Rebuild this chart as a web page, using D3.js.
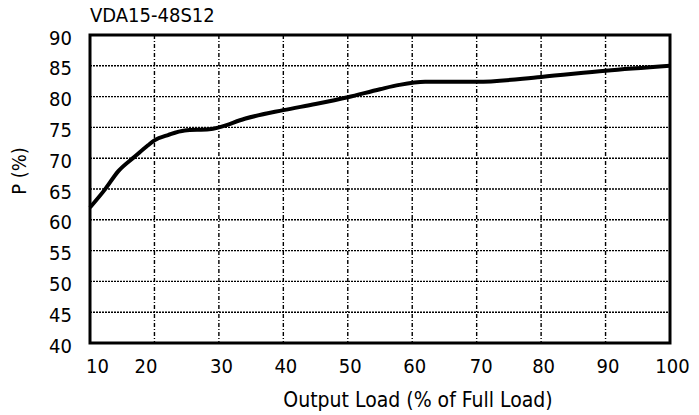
<!DOCTYPE html>
<html>
<head>
<meta charset="utf-8">
<script src="https://cdn.jsdelivr.net/npm/d3@7"></script>
<style>
  body { margin: 0; background: #fff; }
  text { font-family: "DejaVu Sans Condensed", "DejaVu Sans", sans-serif; font-stretch: condensed; fill: #000; }
</style>
</head>
<body>
<div id="chart"></div>
<script>
// efficiency curve
const load = [10, 12.3, 14.4, 17, 19, 20, 22.2, 24.7, 28.5, 30, 34, 40, 45, 50, 55, 58, 62, 70, 80, 90, 100];
const eff = [62.0, 64.9, 67.9, 70.3, 72.1, 72.9, 73.8, 74.5, 74.7, 75.0, 76.4, 77.8, 78.8, 79.9, 81.2, 81.9, 82.4, 82.4, 83.2, 84.2, 85.0];

const xTicks = [10, 20, 30, 40, 50, 60, 70, 80, 90, 100];
const yTicks = [40, 45, 50, 55, 60, 65, 70, 75, 80, 85, 90];

const width = 699, height = 415;
const margin = {top: 35, right: 29, bottom: 72, left: 90};
const w = width - margin.left - margin.right,
    h = height - margin.top - margin.bottom;

const svg = d3.select("#chart")
  .append("svg")
    .attr("width", width)
    .attr("height", height);

const g = svg.append("g")
    .attr("transform", `translate(${margin.left}, ${margin.top})`);

const x = d3.scaleLinear().domain([10, 100]).range([0, w]);
const y = d3.scaleLinear().domain([40, 90]).range([h, 0]);

// grid
g.selectAll(".hgrid")
  .data(yTicks.slice(1, -1))
  .join("line")
    .attr("x1", 0).attr("x2", w)
    .attr("y1", d => y(d)).attr("y2", d => y(d))
    .attr("stroke", "#000")
    .attr("stroke-width", 1.4)
    .attr("stroke-dasharray", "2,1");

g.selectAll(".vgrid")
  .data(xTicks.slice(1, -1))
  .join("line")
    .attr("x1", d => x(d)).attr("x2", d => x(d))
    .attr("y1", 0).attr("y2", h)
    .attr("stroke", "#000")
    .attr("stroke-width", 1.4)
    .attr("stroke-dasharray", "4,2,1,2");

// axes (labels only, frame drawn separately)
const xAxis = g.append("g")
    .attr("transform", `translate(0, ${h})`)
    .call(d3.axisBottom(x).tickValues(xTicks).tickSize(0).tickPadding(16));
xAxis.select(".domain").remove();
xAxis.selectAll("text")
    .style("font-size", "20px")
    .attr("dx", d => d === 10 ? 7 : d === 20 ? -9 : d === 70 ? 4 : 2);

const yAxis = g.append("g")
    .call(d3.axisLeft(y).tickValues(yTicks).tickSize(0).tickPadding(18));
yAxis.select(".domain").remove();
yAxis.selectAll("text")
    .style("font-size", "20px")
    .attr("dy", "0.45em");

// curve
const line = d3.line()
    .x(d => x(d[0]))
    .y(d => y(d[1]))
    .curve(d3.curveMonotoneX);

g.append("path")
    .datum(d3.zip(load, eff))
    .attr("d", line)
    .attr("fill", "none")
    .attr("stroke", "#000")
    .attr("stroke-width", 4)
    .attr("stroke-linejoin", "round");

// frame
g.append("rect")
    .attr("width", w)
    .attr("height", h)
    .attr("fill", "none")
    .attr("stroke", "#000")
    .attr("stroke-width", 3);

// titles
svg.append("text")
    .attr("x", margin.left)
    .attr("y", 22)
    .style("font-size", "20px")
    .text("VDA15-48S12");

svg.append("text")
    .attr("x", 418)
    .attr("y", 407)
    .attr("text-anchor", "middle")
    .style("font-size", "21px")
    .text("Output Load (% of Full Load)");

svg.append("text")
    .attr("transform", "translate(26, 171) rotate(-90)")
    .attr("text-anchor", "middle")
    .style("font-size", "20px")
    .text("P (%)");
</script>
</body>
</html>
